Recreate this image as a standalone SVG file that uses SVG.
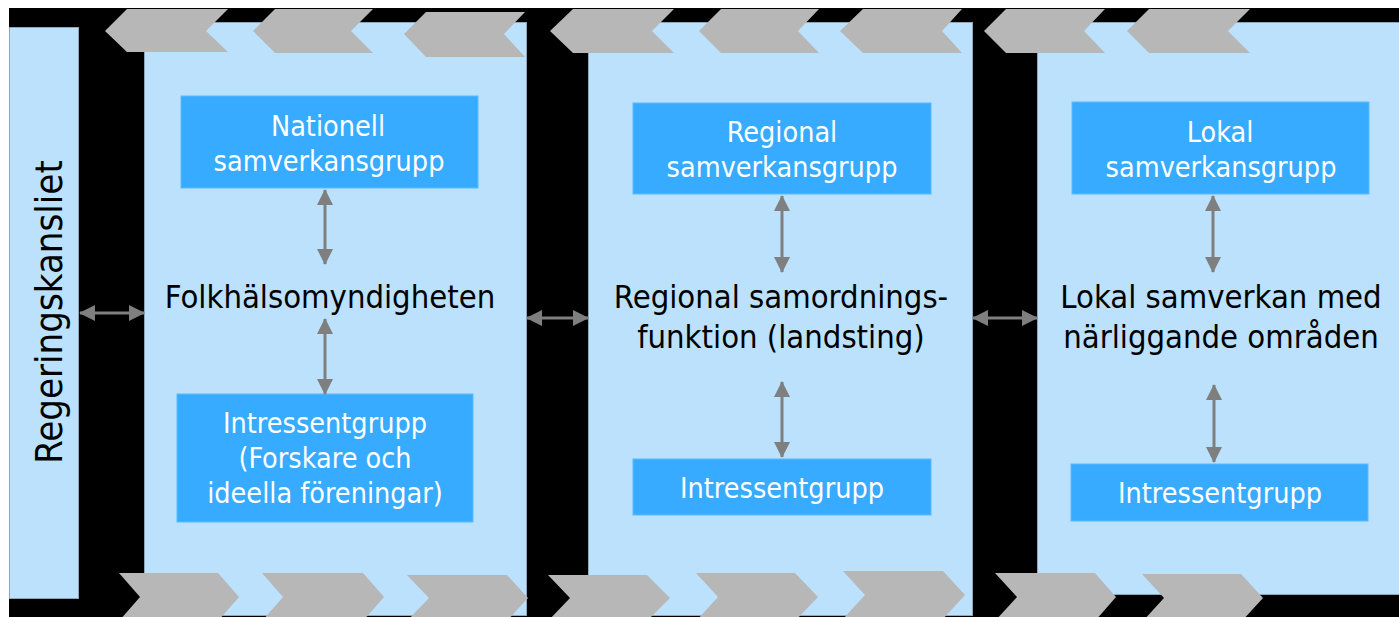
<svg xmlns="http://www.w3.org/2000/svg" width="1399" height="617" viewBox="0 0 1399 617">
<style>
.bg{fill:#000000}
.panel{fill:#BBE1FD;stroke:#8EA6BA;stroke-width:1}
.box{fill:#37ABFF;stroke:#5DBBFF;stroke-width:1}
.chev{fill:#B7B7B7}
.conn{stroke:#7F7F7F;stroke-width:3;fill:none;marker-start:url(#ah);marker-end:url(#ah)}
text{font-family:'DejaVu Sans Condensed','DejaVu Sans',sans-serif;font-stretch:condensed;text-anchor:middle}
.wt{fill:#FFFFFF;font-size:28.5px}
.bt{fill:#000000;font-size:32.5px}
.vt{fill:#000000;font-size:38px}
</style>
<defs>
<marker id="ah" markerUnits="userSpaceOnUse" viewBox="0 0 16 16" markerWidth="16" markerHeight="16" refX="15" refY="8" orient="auto-start-reverse">
<path d="M0,0 L16,8 L0,16 z" fill="#7F7F7F"/>
</marker>
</defs>
<rect x="0" y="0" width="1399" height="617" fill="#FFFFFF"/>
<rect class="bg" x="9" y="8" width="1390" height="609"/>

<g id="regeringskansliet">
<rect class="panel" x="9.5" y="27.5" width="69" height="571"/>
<text class="vt" transform="translate(62,312) rotate(-90)">Regeringskansliet</text>
</g>

<g id="panel-national">
<rect class="panel" x="144.5" y="22.5" width="382" height="593"/>
</g>
<g id="panel-regional">
<rect class="panel" x="588.5" y="22.5" width="384" height="593"/>
</g>
<g id="panel-lokal">
<rect class="panel" x="1037.5" y="22.5" width="370" height="572"/>
</g>

<g id="chevrons-top">
<polygon class="chev" points="105,31 127,9 228,9 206,31 228,52 127,52"/>
<polygon class="chev" points="253,31 275,9 373,9 351,31 373,53 275,53"/>
<polygon class="chev" points="404,34 426,12 525,12 504,34 525,57 426,57"/>
<polygon class="chev" points="550,31 573,9 674,9 652,31 674,53 573,53"/>
<polygon class="chev" points="699,31 721,9 819,9 798,31 819,53 721,53"/>
<polygon class="chev" points="840,31 863,9 962,9 942,31 962,53 863,53"/>
<polygon class="chev" points="984,31 1006,9 1105,9 1084,31 1105,53 1006,53"/>
<polygon class="chev" points="1127,31 1149,9 1250,9 1228,31 1250,53 1149,53"/>
</g>

<g id="chevrons-bottom">
<polygon class="chev" points="119,573 218,573 239,597 218,621 119,621 140,597"/>
<polygon class="chev" points="262,573 363,573 384,597 363,621 262,621 283,597"/>
<polygon class="chev" points="407,575 507,575 528,598 507,621 407,621 429,598"/>
<polygon class="chev" points="548,575 647,575 670,598 647,621 548,621 570,598"/>
<polygon class="chev" points="696,573 795,573 818,597 795,621 696,621 718,597"/>
<polygon class="chev" points="843,571 943,571 965,595 943,619 843,619 865,595"/>
<polygon class="chev" points="995,573 1095,573 1116,597 1095,621 995,621 1017,597"/>
<polygon class="chev" points="1142,574 1241,574 1263,598 1241,622 1142,622 1164,598"/>
</g>

<g id="nationell-samverkansgrupp">
<rect class="box" x="181" y="96" width="297" height="92"/>
<text class="wt" x="328" y="136">Nationell</text>
<text class="wt" x="329" y="171">samverkansgrupp</text>
</g>
<g id="folkhalsomyndigheten">
<text class="bt" x="330" y="308">Folkhälsomyndigheten</text>
</g>
<g id="intressentgrupp-national">
<rect class="box" x="177" y="394" width="296" height="128"/>
<text class="wt" x="325" y="433">Intressentgrupp</text>
<text class="wt" x="325" y="468">(Forskare och</text>
<text class="wt" x="325" y="503">ideella föreningar)</text>
</g>

<g id="regional-samverkansgrupp">
<rect class="box" x="633" y="103" width="298" height="91"/>
<text class="wt" x="782" y="142">Regional</text>
<text class="wt" x="782" y="177">samverkansgrupp</text>
</g>
<g id="regional-samordningsfunktion">
<text class="bt" x="781" y="308">Regional samordnings-</text>
<text class="bt" x="781" y="348">funktion (landsting)</text>
</g>
<g id="intressentgrupp-regional">
<rect class="box" x="633" y="459" width="298" height="56"/>
<text class="wt" x="782" y="498">Intressentgrupp</text>
</g>

<g id="lokal-samverkansgrupp">
<rect class="box" x="1072" y="102" width="297" height="92"/>
<text class="wt" x="1220" y="142">Lokal</text>
<text class="wt" x="1221" y="177">samverkansgrupp</text>
</g>
<g id="lokal-samverkan">
<text class="bt" x="1221" y="308">Lokal samverkan med</text>
<text class="bt" x="1221" y="348">närliggande områden</text>
</g>
<g id="intressentgrupp-lokal">
<rect class="box" x="1071" y="464" width="297" height="57"/>
<text class="wt" x="1220" y="503">Intressentgrupp</text>
</g>

<g id="connectors">
<line class="conn" x1="80" y1="313" x2="144" y2="313"/>
<line class="conn" x1="527" y1="318" x2="588" y2="318"/>
<line class="conn" x1="973" y1="318" x2="1037" y2="318"/>
<line class="conn" x1="325" y1="190" x2="325" y2="264"/>
<line class="conn" x1="325" y1="319" x2="325" y2="394"/>
<line class="conn" x1="782" y1="196" x2="782" y2="272"/>
<line class="conn" x1="782" y1="382" x2="782" y2="457"/>
<line class="conn" x1="1213" y1="196" x2="1213" y2="272"/>
<line class="conn" x1="1214" y1="385" x2="1214" y2="462"/>
</g>
</svg>
